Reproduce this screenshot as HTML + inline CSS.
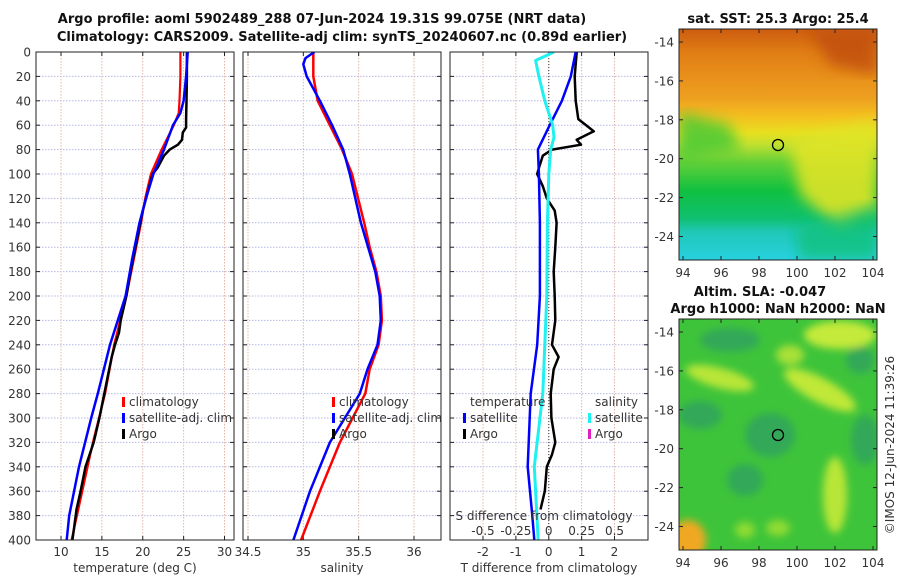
<!DOCTYPE html>
<html><head><meta charset="utf-8"><style>
body{margin:0;background:#fff;}
svg{display:block;font-family:"DejaVu Sans","Liberation Sans",sans-serif;}
.t{font-size:12px;fill:#333;}
.b{font-weight:bold;font-size:13px;fill:#111;}
</style></head><body>
<svg id="fig" width="900" height="580" viewBox="0 0 900 580" xmlns="http://www.w3.org/2000/svg">
<defs>
<clipPath id="c1"><rect x="36" y="52" width="198" height="488"/></clipPath>
<clipPath id="c2"><rect x="243" y="52" width="198" height="488"/></clipPath>
<clipPath id="c3"><rect x="450" y="52" width="198" height="488"/></clipPath>
<clipPath id="m1"><rect x="679" y="29" width="198" height="231"/></clipPath>
<clipPath id="m2"><rect x="679" y="319" width="198" height="231"/></clipPath>
<linearGradient id="sstg" x1="0" y1="0" x2="0" y2="1">
<stop offset="0" stop-color="#cc5c10"/><stop offset="0.1" stop-color="#e07d14"/>
<stop offset="0.3" stop-color="#eea020"/><stop offset="0.38" stop-color="#f4c020"/>
<stop offset="0.45" stop-color="#e8e020"/><stop offset="0.5" stop-color="#c0e030"/>
<stop offset="0.58" stop-color="#60d038"/><stop offset="0.7" stop-color="#10c040"/>
<stop offset="0.82" stop-color="#10c070"/><stop offset="0.88" stop-color="#20c8b8"/>
<stop offset="1" stop-color="#28d0e0"/></linearGradient>
<filter id="bl"><feGaussianBlur stdDeviation="7"/></filter>
<filter id="bl2"><feGaussianBlur stdDeviation="4"/></filter>
</defs>
<text class="b" x="322" y="23" text-anchor="middle">Argo profile: aoml 5902489_288 07-Jun-2024 19.31S 99.075E (NRT data)</text>
<text class="b" x="342" y="41" text-anchor="middle">Climatology: CARS2009. Satellite-adj clim: synTS_20240607.nc (0.89d earlier)</text>
<g id="panels"></g>
<g clip-path="url(#m1)">
<rect x="679" y="29" width="198" height="231" fill="url(#sstg)"/>
<polygon points="790,140 877,120 877,210 840,228 800,195" fill="#e0e428" filter="url(#bl)" opacity="0.9"/>
<polygon points="810,30 877,30 877,75 830,65" fill="#c04e10" filter="url(#bl)" opacity="0.8"/>
<polygon points="679,112 730,125 740,150 679,160" fill="#40c838" filter="url(#bl)" opacity="0.8"/>
<polygon points="795,228 877,205 877,260 800,260" fill="#10c070" filter="url(#bl)" opacity="0.7"/>
</g>
<rect x="679" y="29" width="198" height="231" fill="none" stroke="#222" stroke-width="1"/>
<circle cx="778" cy="145" r="5.5" fill="none" stroke="#000" stroke-width="1.3"/>
<text class="b" x="778" y="23" text-anchor="middle">sat. SST: 25.3 Argo: 25.4</text>
<g clip-path="url(#m2)">
<rect x="679" y="319" width="198" height="231" fill="#3ec43a"/>
<g filter="url(#bl2)">
<ellipse cx="730" cy="340" rx="30" ry="12" fill="#30a858"/>
<ellipse cx="700" cy="415" rx="22" ry="14" fill="#30a858"/>
<ellipse cx="770" cy="435" rx="25" ry="22" fill="#30a858"/>
<ellipse cx="745" cy="480" rx="18" ry="16" fill="#30a858"/>
<ellipse cx="865" cy="440" rx="14" ry="25" fill="#30a858"/>
<ellipse cx="860" cy="360" rx="14" ry="14" fill="#30a858"/>
<ellipse cx="720" cy="378" rx="35" ry="10" fill="#b8e638" transform="rotate(15 720 378)"/>
<ellipse cx="820" cy="390" rx="40" ry="12" fill="#c0e838" transform="rotate(28 820 390)"/>
<ellipse cx="840" cy="335" rx="36" ry="14" fill="#c4ea3a"/>
<ellipse cx="790" cy="355" rx="14" ry="10" fill="#a8e038"/>
<ellipse cx="835" cy="495" rx="12" ry="38" fill="#b8e638"/>
<ellipse cx="688" cy="540" rx="18" ry="20" fill="#f0a820"/>
<ellipse cx="778" cy="528" rx="12" ry="8" fill="#90dc30"/>
<ellipse cx="745" cy="530" rx="10" ry="8" fill="#90dc30"/>
</g>
</g>
<rect x="679" y="319" width="198" height="231" fill="none" stroke="#222" stroke-width="1"/>
<circle cx="778" cy="435" r="5.5" fill="none" stroke="#000" stroke-width="1.3"/>
<text class="b" x="760" y="296" text-anchor="middle">Altim. SLA: -0.047</text>
<text class="b" x="778" y="313" text-anchor="middle">Argo h1000: NaN h2000: NaN</text>
<g id="maps"></g>
<text class="t" transform="translate(894,445) rotate(-90)" text-anchor="middle">©IMOS 12-Jun-2024 11:39:26</text>
</svg>
<script>
const depthTicks=[0,20,40,60,80,100,120,140,160,180,200,220,240,260,280,300,320,340,360,380,400];
const tempTicks=[10,15,20,25,30];
const salTicks=[34.5,35,35.5,36];
const tdiffTicks=[-2,-1,0,1,2];
const sdiffTicks=[-0.5,-0.25,0,0.25,0.5];
const sdiffLabels=["-0.5","-0.25","0","0.25","0.5"];
const tClimDepth=[0,20,40,50,60,80,100,120,140,170,200,240,280,320,360,400];
const tClim=[24.6,24.6,24.5,24.4,23.8,22.3,21.0,20.3,19.8,18.9,18.0,16.5,15.4,13.9,12.6,11.3];
const tSatDepth=[0,20,40,50,60,80,100,120,140,170,200,240,280,300,340,380,400];
const tSat=[25.5,25.3,25.0,24.6,23.7,22.6,21.3,20.4,19.6,18.7,17.9,16.0,14.5,13.7,12.2,11.0,10.7];
const tArgoDepth=[0,20,40,55,62,66,72,76,80,85,95,100,110,120,130,140,160,180,200,220,230,240,250,260,280,300,320,340,360,375,390,400];
const tArgo=[25.4,25.4,25.35,25.3,25.3,24.9,24.8,24.3,23.3,22.6,21.8,21.2,20.8,20.4,20.0,19.7,19.1,18.5,18.0,17.3,17.1,16.6,16.2,15.9,15.3,14.7,14.0,13.0,12.4,11.9,11.6,11.4];
const sClimDepth=[0,20,40,60,80,100,140,160,180,200,220,240,260,280,320,360,400];
const sClim=[35.09,35.09,35.13,35.24,35.35,35.44,35.55,35.6,35.66,35.70,35.71,35.68,35.6,35.56,35.33,35.15,34.98];
const sSatDepth=[0,5,10,20,40,60,80,100,140,180,200,220,240,260,280,320,360,400];
const sSat=[35.1,35.02,35.0,35.03,35.15,35.26,35.36,35.42,35.52,35.65,35.69,35.70,35.67,35.58,35.51,35.24,35.06,34.91];
const dTSatDepth=[0,20,40,60,80,100,140,200,240,280,340,380,400];
const dTSat=[0.82,0.67,0.4,0.03,-0.33,-0.3,-0.27,-0.27,-0.35,-0.55,-0.64,-0.5,-0.44];
const dTArgoDepth=[0,20,40,55,65,72,76,80,85,95,100,110,120,130,140,160,180,200,220,240,250,260,280,300,320,330,340,360,375];
const dTArgo=[0.85,0.79,0.82,0.9,1.37,0.85,0.98,0.1,-0.18,-0.3,-0.35,-0.18,-0.06,0.18,0.24,0.2,0.15,0.18,0.2,0.1,0.3,0.15,0.06,0.08,0.2,0.1,-0.06,-0.12,-0.25];
const dSSatDepth=[0,7,20,40,60,70,80,100,140,200,280,340,400];
const dSSat=[0.04,-0.1,-0.075,-0.03,0.03,0.04,0.015,0.0,-0.01,-0.015,-0.045,-0.11,-0.08];
const latTicks=[-14,-16,-18,-20,-22,-24];
const lonTicks=[94,96,98,100,102,104];

const NS="http://www.w3.org/2000/svg";
const Y0=52,Y1=540;
function yD(d){return Y0+(d/400)*(Y1-Y0);}
function mk(tag,attrs,parent){const e=document.createElementNS(NS,tag);for(const k in attrs)e.setAttribute(k,attrs[k]);parent.appendChild(e);return e;}
const P=document.getElementById('panels');
function axis(x0,x1,lo,hi){return v=>x0+(v-lo)/(hi-lo)*(x1-x0);}
function panel(name,x0,x1,xf,ticks,labels,showY){
  const g=mk('g',{},P);
  
  
  depthTicks.forEach(d=>{const l=mk('line',{x1:x0,x2:x1,y1:yD(d),y2:yD(d),stroke:'#b4b8e4','stroke-width':1,'stroke-dasharray':'1.5,1.5'},g);
    
    mk('line',{x1:x0,x2:x0+4,y1:yD(d),y2:yD(d),stroke:'#222'},g);mk('line',{x1:x1-4,x2:x1,y1:yD(d),y2:yD(d),stroke:'#222'},g);
    if(showY){const t=mk('text',{x:x0-5,y:yD(d)+4.5,'text-anchor':'end',class:'t'},g);t.textContent=d;
      }
  });
  ticks.forEach((v,i)=>{const x=xf(v);const l=mk('line',{x1:x,x2:x,y1:Y0,y2:Y1,stroke:'#e4b8a8','stroke-width':1,'stroke-dasharray':'1.5,1.5'},g);
    
    mk('line',{x1:x,x2:x,y1:Y1-4,y2:Y1,stroke:'#222'},g);mk('line',{x1:x,x2:x,y1:Y0,y2:Y0+4,stroke:'#222'},g);
    const t=mk('text',{x:x,y:556,'text-anchor':'middle',class:'t'},g);t.textContent=labels[i];
    });
  return g;
}
function line(g,name,xf,ds,vs,col,w,clip){
  const pts=ds.map((d,i)=>xf(vs[i]).toFixed(1)+','+yD(d).toFixed(1)).join(' ');
  const p=mk('polyline',{points:pts,fill:'none',stroke:col,'stroke-width':w,'stroke-linejoin':'round','clip-path':clip},g);
  
}
function frame(g,x0,x1){const r=mk('rect',{x:x0,y:Y0,width:x1-x0,height:Y1-Y0,fill:'none',stroke:'#222','stroke-width':1},g);
  }
function txt(g,name,x,y,s,anchor){const t=mk('text',{x:x,y:y,'text-anchor':anchor||'start',class:'t'},g);t.textContent=s;
  }
function legend(g,x,y,col,label){const r=mk('rect',{x:x,y:y-9,width:3,height:10,fill:col},g);
  
  txt(g,'legend-entry',x+7,y,label);}

const xT=axis(61,224.5,10,30);
let g1=panel('temperature-panel',36,234,xT,tempTicks,tempTicks.map(String),true);
line(g1,'temp-climatology-line',xT,tClimDepth,tClim,'#f00',2.2,'url(#c1)');
line(g1,'temp-argo-line',xT,tArgoDepth,tArgo,'#000',2.5,'url(#c1)');
line(g1,'temp-satellite-line',xT,tSatDepth,tSat,'#00f',2.5,'url(#c1)');
frame(g1,36,234);
txt(g1,'temp-x-axis-title',135,572,'temperature (deg C)','middle');
legend(g1,122,406,'#f00','climatology');legend(g1,122,422,'#00f','satellite-adj. clim');legend(g1,122,438,'#000','Argo');

const xS=axis(248,414,34.5,36);
let g2=panel('salinity-panel',243,441,xS,salTicks,['34.5','35','35.5','36'],false);
line(g2,'sal-climatology-line',xS,sClimDepth,sClim,'#f00',2.5,'url(#c2)');
line(g2,'sal-satellite-line',xS,sSatDepth,sSat,'#00f',2.5,'url(#c2)');
frame(g2,243,441);
txt(g2,'sal-x-axis-title',342,572,'salinity','middle');
legend(g2,332,406,'#f00','climatology');legend(g2,332,422,'#00f','satellite-adj. clim');legend(g2,332,438,'#000','Argo');

const xD=axis(483,614.5,-2,2);
const xSD=v=>xD(0)+v*4*(xD(1)-xD(0));
let g3=panel('difference-panel',450,648,xD,tdiffTicks,tdiffTicks.map(String),false);
const z=mk('line',{x1:xD(0),x2:xD(0),y1:Y0,y2:Y1,stroke:'#555','stroke-width':1.2,'stroke-dasharray':'1,2'},g3);

line(g3,'tdiff-argo-line',xD,dTArgoDepth,dTArgo,'#000',2.5,'url(#c3)');
line(g3,'tdiff-satellite-line',xD,dTSatDepth,dTSat,'#00f',2.5,'url(#c3)');
line(g3,'sdiff-satellite-line',xSD,dSSatDepth,dSSat,'#1ff0f0',3,'url(#c3)');
frame(g3,450,648);
txt(g3,'tdiff-x-axis-title',549,572,'T difference from climatology','middle');
txt(g3,'sdiff-axis-title',544,520,'S difference from climatology','middle');
sdiffTicks.forEach((v,i)=>txt(g3,'sdiff-tick-label',xSD(v),535,sdiffLabels[i],'middle'));
txt(g3,'legend-title-temperature',470,406,'temperature');txt(g3,'legend-title-salinity',595,406,'salinity');
legend(g3,463,422,'#00f','satellite');legend(g3,463,438,'#000','Argo');
legend(g3,588,422,'#1ff0f0','satellite');legend(g3,588,438,'#e020c0','Argo');

const M=document.getElementById('maps');
const lonX=axis(683,873,94,104);
function mapAxes(top,name){
  const g=mk('g',{},M);
  const latY=v=>top+13+(-14-v)*(194.5/10);
  latTicks.forEach(v=>{const y=latY(v);mk('line',{x1:679,x2:683,y1:y,y2:y,stroke:'#222'},g);mk('line',{x1:873,x2:877,y1:y,y2:y,stroke:'#222'},g);
    txt(g,'lat-tick-label',674,y+4.5,String(v),'end');});
  lonTicks.forEach(v=>{const x=lonX(v);mk('line',{x1:x,x2:x,y1:top+227,y2:top+231,stroke:'#222'},g);mk('line',{x1:x,x2:x,y1:top,y2:top+4,stroke:'#222'},g);
    txt(g,'lon-tick-label',x,top+248,String(v),'middle');});
}
mapAxes(29,'sst-map-axes');mapAxes(319,'sla-map-axes');
</script>
</body></html>
